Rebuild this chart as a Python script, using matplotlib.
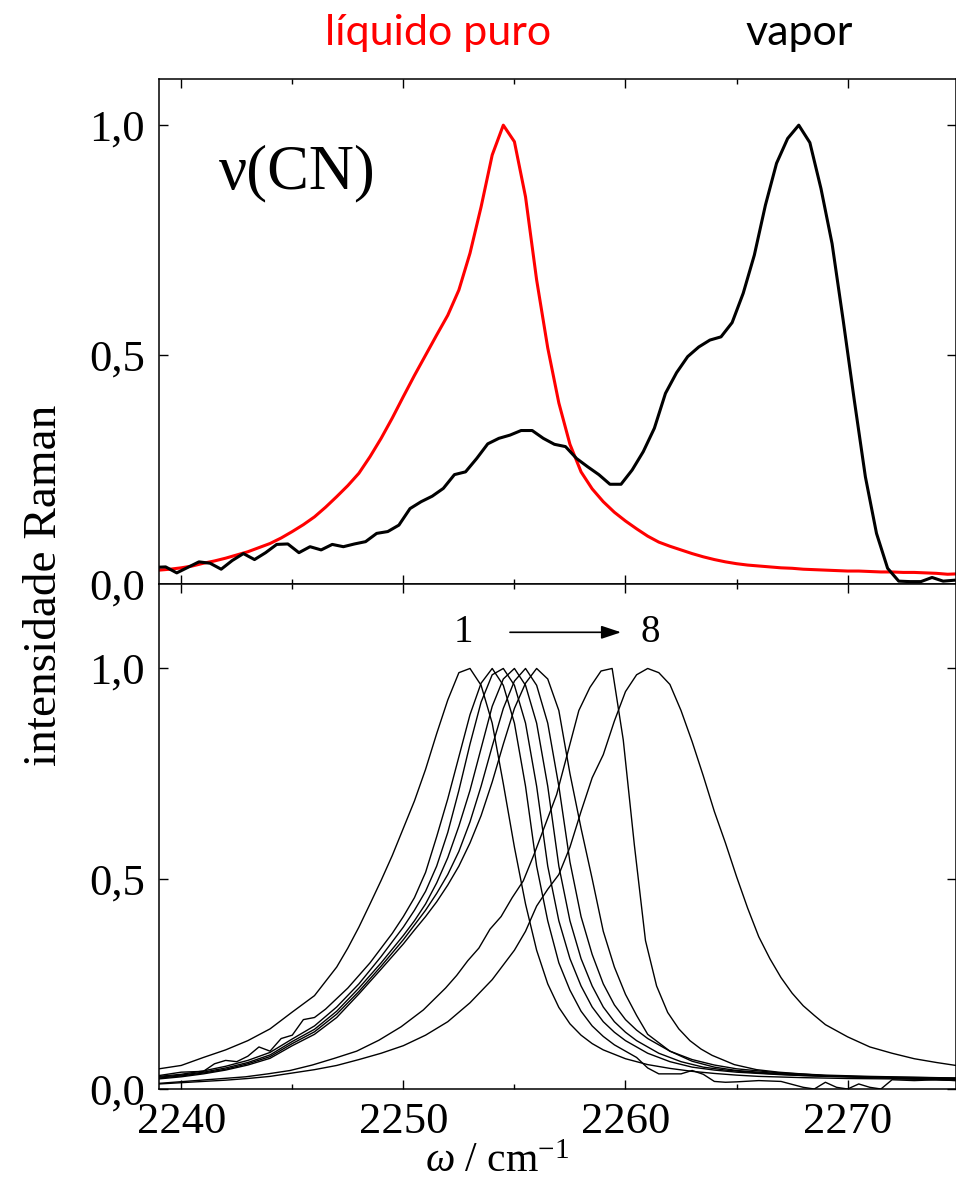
import matplotlib
matplotlib.use('Agg')
import matplotlib.pyplot as plt
from matplotlib.ticker import FixedLocator, MultipleLocator

plt.rcParams['font.family'] = ['Liberation Serif', 'DejaVu Serif']
plt.rcParams['mathtext.fontset'] = 'custom'
plt.rcParams['mathtext.rm'] = 'Liberation Serif'
plt.rcParams['mathtext.it'] = 'Liberation Serif:italic'

# --- top panel: pure liquid (red) and vapour (black) nu(CN) band ---
liq_w = [2239.0, 2239.5, 2240.0, 2240.5, 2241.0, 2241.5, 2242.0, 2242.5, 2243.0, 2243.5,
         2244.0, 2244.5, 2245.0, 2245.5, 2246.0, 2246.5, 2247.0, 2247.5, 2248.0, 2248.5,
         2249.0, 2249.5, 2250.0, 2250.5, 2251.0, 2251.5, 2252.0, 2252.5, 2253.0, 2253.5,
         2254.0, 2254.5, 2255.0, 2255.5, 2256.0, 2256.5, 2257.0, 2257.5, 2258.0, 2258.5,
         2259.0, 2259.5, 2260.0, 2260.5, 2261.0, 2261.5, 2262.0, 2262.5, 2263.0, 2263.5,
         2264.0, 2264.5, 2265.0, 2265.5, 2266.0, 2266.5, 2267.0, 2267.5, 2268.0, 2268.5,
         2269.0, 2269.5, 2270.0, 2270.5, 2271.0, 2271.5, 2272.0, 2272.5, 2273.0, 2273.5,
         2274.0, 2274.5, 2275.0]
liq_i = [0.031, 0.033, 0.036, 0.040, 0.046, 0.051, 0.057, 0.064, 0.071, 0.080,
         0.089, 0.101, 0.115, 0.130, 0.147, 0.168, 0.191, 0.215, 0.242, 0.278,
         0.318, 0.362, 0.409, 0.455, 0.499, 0.543, 0.586, 0.641, 0.721, 0.822,
         0.935, 1.000, 0.964, 0.844, 0.663, 0.515, 0.395, 0.305, 0.245, 0.208,
         0.180, 0.157, 0.138, 0.121, 0.105, 0.092, 0.083, 0.075, 0.067, 0.060,
         0.054, 0.049, 0.045, 0.042, 0.040, 0.038, 0.036, 0.035, 0.033, 0.032,
         0.031, 0.030, 0.029, 0.029, 0.028, 0.027, 0.027, 0.026, 0.026, 0.025,
         0.024, 0.022, 0.023]

vap_w = [2238.8, 2239.3, 2239.8, 2240.3, 2240.8, 2241.3, 2241.8, 2242.3, 2242.8, 2243.3,
         2243.8, 2244.3, 2244.8, 2245.3, 2245.8, 2246.3, 2246.8, 2247.3, 2247.8, 2248.3,
         2248.8, 2249.3, 2249.8, 2250.3, 2250.8, 2251.3, 2251.8, 2252.3, 2252.8, 2253.3,
         2253.8, 2254.3, 2254.8, 2255.3, 2255.8, 2256.3, 2256.8, 2257.3, 2257.8, 2258.3,
         2258.8, 2259.3, 2259.8, 2260.3, 2260.8, 2261.3, 2261.8, 2262.3, 2262.8, 2263.3,
         2263.8, 2264.3, 2264.8, 2265.3, 2265.8, 2266.3, 2266.8, 2267.3, 2267.8, 2268.3,
         2268.8, 2269.3, 2269.8, 2270.3, 2270.8, 2271.3, 2271.8, 2272.3, 2272.8, 2273.3,
         2273.8, 2274.3, 2274.8]
vap_i = [0.037, 0.038, 0.025, 0.037, 0.049, 0.046, 0.033, 0.052, 0.067, 0.054,
         0.069, 0.087, 0.088, 0.069, 0.082, 0.075, 0.087, 0.082, 0.088, 0.093,
         0.111, 0.115, 0.129, 0.165, 0.180, 0.192, 0.209, 0.239, 0.245, 0.274,
         0.306, 0.318, 0.325, 0.335, 0.335, 0.318, 0.305, 0.300, 0.274, 0.256,
         0.239, 0.218, 0.218, 0.249, 0.289, 0.340, 0.416, 0.461, 0.496, 0.517,
         0.532, 0.539, 0.570, 0.634, 0.717, 0.826, 0.917, 0.971, 1.000, 0.962,
         0.862, 0.742, 0.575, 0.401, 0.234, 0.111, 0.035, 0.007, 0.006, 0.006,
         0.015, 0.007, 0.009]

# --- bottom panel: spectra 1..8 ---
s1_w = [2239, 2240, 2241, 2242, 2243, 2244, 2245, 2246, 2247, 2247.5, 2248, 2248.5, 2249,
        2249.5, 2250, 2250.5, 2251, 2251.5, 2252, 2252.5, 2253, 2253.5, 2254, 2254.5, 2255,
        2255.5, 2256, 2256.5, 2257, 2257.5, 2258, 2258.5, 2259, 2260, 2261, 2262, 2263,
        2264, 2265, 2266, 2268, 2270, 2272, 2275]
s1_i = [0.048, 0.056, 0.075, 0.093, 0.115, 0.143, 0.183, 0.222, 0.290, 0.335, 0.385, 0.440,
        0.496, 0.555, 0.620, 0.685, 0.760, 0.845, 0.925, 0.990, 1.000, 0.960, 0.870, 0.726,
        0.575, 0.440, 0.330, 0.250, 0.194, 0.155, 0.128, 0.108, 0.093, 0.072, 0.058, 0.049,
        0.042, 0.037, 0.033, 0.030, 0.027, 0.025, 0.024, 0.022]

s2_w = [2239, 2240, 2241, 2241.5, 2242, 2242.5, 2243, 2243.5, 2244, 2244.5, 2245, 2245.5,
        2246, 2246.5, 2247, 2247.5, 2248, 2248.5, 2249, 2249.5, 2250, 2250.5, 2251, 2251.5,
        2252, 2252.5, 2253, 2253.5, 2254, 2254.5, 2255, 2255.5, 2256, 2256.5, 2257, 2257.5,
        2258, 2258.5, 2259, 2259.5, 2260, 2260.5, 2261, 2261.5, 2262, 2262.5, 2263, 2263.5,
        2264, 2264.5, 2265, 2266, 2267, 2268, 2268.5, 2269, 2269.5, 2270, 2270.5, 2271,
        2271.5, 2272, 2273, 2274, 2275]
s2_i = [0.032, 0.040, 0.042, 0.060, 0.068, 0.065, 0.078, 0.100, 0.090, 0.120, 0.128, 0.165,
        0.170, 0.190, 0.215, 0.240, 0.270, 0.300, 0.335, 0.370, 0.410, 0.455, 0.515, 0.600,
        0.690, 0.790, 0.890, 0.965, 1.000, 0.960, 0.870, 0.720, 0.530, 0.400, 0.300, 0.235,
        0.185, 0.150, 0.125, 0.105, 0.090, 0.075, 0.050, 0.036, 0.036, 0.036, 0.044, 0.035,
        0.018, 0.016, 0.017, 0.020, 0.018, 0.004, 0.000, 0.016, 0.004, 0.000, 0.012, 0.004,
        0.000, 0.022, 0.020, 0.022, 0.020]

s3_w = [2239, 2240, 2241, 2242, 2243, 2244, 2245, 2246, 2247, 2248, 2249, 2250, 2250.5,
        2251, 2251.5, 2252, 2252.5, 2253, 2253.5, 2254, 2254.5, 2255, 2255.5, 2256, 2256.5,
        2257, 2257.5, 2258, 2258.5, 2259, 2259.5, 2260, 2261, 2262, 2263, 2264, 2265, 2267,
        2269, 2271, 2273, 2275]
s3_i = [0.030, 0.035, 0.043, 0.054, 0.068, 0.087, 0.119, 0.150, 0.195, 0.250, 0.315, 0.385,
        0.425, 0.470, 0.530, 0.610, 0.710, 0.820, 0.920, 0.985, 1.000, 0.960, 0.870, 0.720,
        0.530, 0.400, 0.310, 0.245, 0.195, 0.160, 0.135, 0.115, 0.085, 0.065, 0.052, 0.045,
        0.040, 0.034, 0.030, 0.028, 0.026, 0.024]

s4_w = [2239, 2240, 2241, 2242, 2243, 2244, 2245, 2246, 2247, 2248, 2249, 2250, 2250.5,
        2251, 2251.5, 2252, 2252.5, 2253, 2253.5, 2254, 2254.5, 2255, 2255.5, 2256, 2256.5,
        2257, 2257.5, 2258, 2258.5, 2259, 2259.5, 2260, 2260.5, 2261.5, 2262.5, 2263.5,
        2264.5, 2266, 2268, 2270, 2272, 2275]
s4_i = [0.028, 0.033, 0.040, 0.050, 0.063, 0.081, 0.113, 0.142, 0.185, 0.240, 0.300, 0.365,
        0.400, 0.440, 0.490, 0.550, 0.625, 0.710, 0.810, 0.910, 0.975, 1.000, 0.960, 0.870,
        0.720, 0.530, 0.400, 0.310, 0.245, 0.195, 0.160, 0.135, 0.115, 0.085, 0.065, 0.052,
        0.045, 0.038, 0.032, 0.029, 0.026, 0.024]

s5_w = [2239, 2240, 2241, 2242, 2243, 2244, 2245, 2246, 2247, 2248, 2249, 2250, 2250.5,
        2251, 2251.5, 2252, 2252.5, 2253, 2253.5, 2254, 2254.5, 2255, 2255.5, 2256, 2256.5,
        2257, 2257.5, 2258, 2258.5, 2259, 2259.5, 2260, 2260.5, 2261, 2262, 2263, 2264,
        2265, 2267, 2269, 2271, 2273, 2275]
s5_i = [0.026, 0.031, 0.038, 0.047, 0.060, 0.077, 0.108, 0.136, 0.178, 0.232, 0.292, 0.355,
        0.390, 0.425, 0.465, 0.510, 0.565, 0.635, 0.720, 0.815, 0.905, 0.970, 1.000, 0.960,
        0.870, 0.720, 0.540, 0.410, 0.320, 0.250, 0.200, 0.165, 0.140, 0.120, 0.090, 0.070,
        0.057, 0.048, 0.038, 0.033, 0.030, 0.028, 0.026]

s6_w = [2239, 2240, 2241, 2242, 2243, 2244, 2245, 2246, 2247, 2248, 2249, 2250, 2250.5,
        2251, 2251.5, 2252, 2252.5, 2253, 2253.5, 2254, 2254.5, 2255, 2255.5, 2256, 2256.5,
        2257, 2257.5, 2258, 2258.5, 2259, 2259.5, 2260, 2260.5, 2261, 2262, 2263, 2264,
        2265, 2266, 2268, 2270, 2272, 2275]
s6_i = [0.024, 0.029, 0.036, 0.045, 0.057, 0.073, 0.103, 0.130, 0.170, 0.226, 0.285, 0.345,
        0.378, 0.410, 0.445, 0.485, 0.530, 0.585, 0.650, 0.730, 0.820, 0.905, 0.965, 1.000,
        0.975, 0.900, 0.750, 0.620, 0.500, 0.375, 0.290, 0.225, 0.175, 0.130, 0.090, 0.066,
        0.052, 0.044, 0.040, 0.033, 0.030, 0.028, 0.026]

s7_w = [2238.9, 2239.9, 2240.9, 2241.9, 2242.9, 2243.9, 2244.9, 2245.9, 2246.9, 2247.9,
        2248.9, 2249.9, 2250.9, 2251.9, 2252.4, 2252.9, 2253.4, 2253.9, 2254.4, 2254.9,
        2255.4, 2255.9, 2256.4, 2256.9, 2257.4, 2257.9, 2258.4, 2258.9, 2259.4, 2259.9,
        2260.4, 2260.9, 2261.4, 2261.9, 2262.4, 2262.9, 2263.4, 2263.9, 2264.9, 2265.9,
        2266.9, 2268.9, 2270.9, 2272.9, 2274.9]
s7_i = [0.013, 0.017, 0.021, 0.025, 0.029, 0.036, 0.044, 0.057, 0.073, 0.090, 0.116, 0.148,
        0.188, 0.240, 0.270, 0.305, 0.335, 0.380, 0.410, 0.455, 0.495, 0.560, 0.630, 0.700,
        0.800, 0.900, 0.955, 0.994, 1.000, 0.830, 0.580, 0.353, 0.245, 0.182, 0.143, 0.115,
        0.095, 0.080, 0.058, 0.046, 0.040, 0.032, 0.028, 0.024, 0.020]

s8_w = [2239, 2240, 2241, 2242, 2243, 2244, 2245, 2246, 2247, 2248, 2249, 2250, 2251, 2252,
        2253, 2254, 2254.5, 2255, 2255.5, 2256, 2256.5, 2257, 2257.5, 2258, 2258.5, 2259,
        2259.5, 2260, 2260.5, 2261, 2261.5, 2262, 2262.5, 2263, 2263.5, 2264, 2264.5, 2265,
        2265.5, 2266, 2266.5, 2267, 2267.5, 2268, 2268.5, 2269, 2270, 2271, 2272, 2273, 2274,
        2275]
s8_i = [0.012, 0.015, 0.018, 0.021, 0.025, 0.030, 0.038, 0.046, 0.056, 0.070, 0.085, 0.103,
        0.128, 0.160, 0.205, 0.260, 0.295, 0.330, 0.375, 0.435, 0.475, 0.510, 0.575, 0.660,
        0.740, 0.795, 0.875, 0.945, 0.985, 1.000, 0.990, 0.962, 0.900, 0.826, 0.745, 0.660,
        0.585, 0.505, 0.430, 0.362, 0.310, 0.265, 0.228, 0.198, 0.175, 0.153, 0.124, 0.100,
        0.085, 0.072, 0.063, 0.055]

spectra = [(s1_w, s1_i), (s2_w, s2_i), (s3_w, s3_i), (s4_w, s4_i),
           (s5_w, s5_i), (s6_w, s6_i), (s7_w, s7_i), (s8_w, s8_i)]

xticks = [2240, 2250, 2260, 2270]
yticks = [0.0, 0.5, 1.0]
ytick_labels = ['0,0', '0,5', '1,0']

fig = plt.figure(figsize=(9.56, 11.81), dpi=100)
ax_top = fig.add_axes([0.1663, 0.5052, 0.8342, 0.4277])
ax_bot = fig.add_axes([0.1663, 0.0779, 0.8342, 0.4273], sharex=ax_top)

ax_top.plot(liq_w, liq_i, color='#ff0000', lw=2.2)
ax_top.plot(vap_w, vap_i, color='black', lw=2.2)
for w, i in spectra:
    ax_bot.plot(w, i, color='black', lw=1.0)

for ax, ytop in ((ax_top, 1.1), (ax_bot, 1.2)):
    ax.set_xlim(2239, 2274.9)
    ax.set_ylim(0, ytop)
    ax.set_yticks(yticks)
    ax.set_yticklabels(ytick_labels)
    ax.xaxis.set_major_locator(FixedLocator(xticks))
    ax.xaxis.set_minor_locator(MultipleLocator(5))
    ax.tick_params(which='both', direction='in', top=True, right=True,
                   width=1.0, labelsize=32)
    ax.tick_params(which='major', length=6.5)
    ax.tick_params(which='minor', length=3.5)
    ax.tick_params(axis='y', pad=10)
    ax.tick_params(axis='x', pad=9.5)
    for s in ax.spines.values():
        s.set_linewidth(1.1)
ax_top.tick_params(labelbottom=False)

ax_top.text(2241.7, 0.863, 'ν(CN)', fontsize=45, va='baseline')

# order of the spectra
ax_bot.text(2252.7, 1.086, '1', fontsize=28, ha='center', va='center')
ax_bot.text(2261.1, 1.086, '8', fontsize=28, ha='center', va='center')
ax_bot.annotate('', xy=(2259.8, 1.086), xytext=(2254.8, 1.086),
                arrowprops=dict(arrowstyle='-|>,head_length=0.6,head_width=0.2',
                                color='black', lw=1.2, mutation_scale=20,
                                shrinkA=0, shrinkB=0))

fig.text(0.047, 0.5047, 'intensidade Raman', rotation=90, fontsize=34,
         ha='center', va='center')
fig.text(0.52, 0.0076, r'$\omega$ / cm$^{-1}$', fontsize=30, ha='center',
         va='baseline')

fig.text(0.4585, 0.962, 'líquido puro', color='#ff0000', family='Lato',
         fontsize=31, ha='center', va='baseline')
fig.text(0.836, 0.962, 'vapor', color='black', family='Lato',
         fontsize=31, ha='center', va='baseline')

fig.savefig('out.png', dpi=100)
